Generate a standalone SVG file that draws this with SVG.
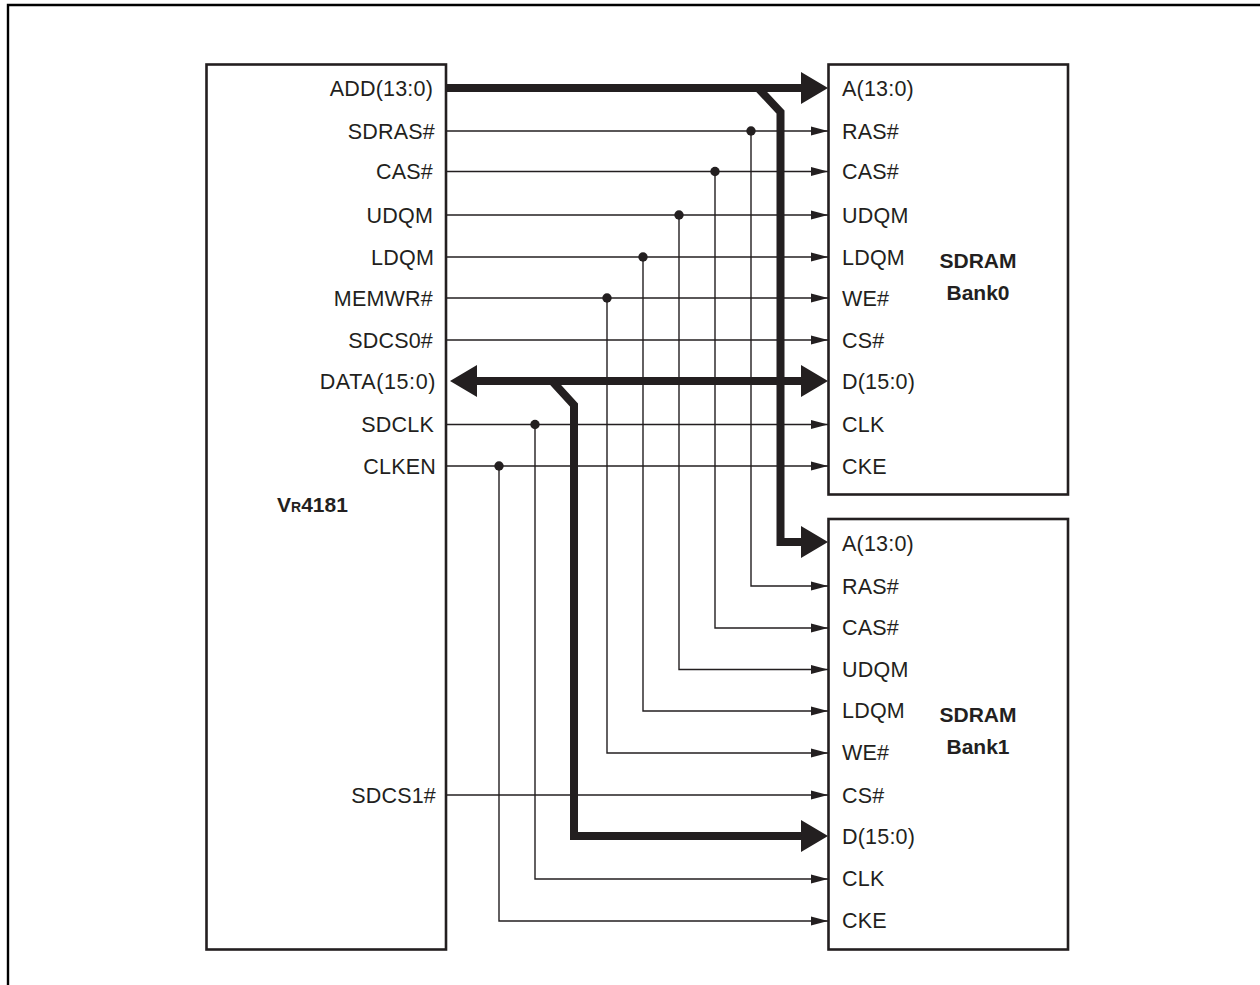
<svg xmlns="http://www.w3.org/2000/svg" width="1260" height="985" viewBox="0 0 1260 985">
<style>
text{font-family:"Liberation Sans",Arial,sans-serif;font-size:21.500px;letter-spacing:.2px;fill:#231f20}
.l{text-anchor:end}
.b{font-weight:bold;font-size:21px;letter-spacing:0;text-anchor:middle}
.box{fill:#fff;stroke:#231f20;stroke-width:2.6}
.t{fill:none;stroke:#231f20;stroke-width:1.4}
.k{fill:none;stroke:#231f20;stroke-width:8;stroke-linejoin:miter}
.h{fill:#231f20;stroke:none}
</style>
<defs>
<marker id="a" markerUnits="userSpaceOnUse" markerWidth="17" markerHeight="10" refX="17" refY="5" orient="auto"><path class="h" d="M0 .5L17 5L0 9.500Z"/></marker>
<marker id="A" markerUnits="userSpaceOnUse" markerWidth="28" markerHeight="34" refX="0" refY="17" orient="auto-start-reverse"><path class="h" d="M0 1L27 17L0 33Z"/></marker>
<circle id="d" r="4.700" fill="#231f20"/>
</defs>
<path id="frame" d="M8 985V5H1260" fill="none" stroke="#000" stroke-width="2.400"/>
<g id="vr4181"><rect class="box" x="206.500" y="64.500" width="239.500" height="885"/>
<text x="277" y="512" style="font-weight:bold;font-size:21px;letter-spacing:0">V<tspan style="font-size:14px">R</tspan>4181</text>
<text class="l" x="433" y="95.500">ADD(13:0)</text><text class="l" x="435" y="138.500">SDRAS#</text><text class="l" x="433" y="179">CAS#</text><text class="l" x="433" y="222.500">UDQM</text><text class="l" x="434" y="264.500">LDQM</text><text class="l" x="433" y="305.500">MEMWR#</text><text class="l" x="433" y="347.500">SDCS0#</text><text class="l" x="436" y="389" style="letter-spacing:.6px">DATA(15:0)</text><text class="l" x="434" y="431.500">SDCLK</text><text class="l" x="436" y="473.500">CLKEN</text><text class="l" x="436" y="802.500">SDCS1#</text></g>
<g id="bank0"><rect class="box" x="828.500" y="64.500" width="239.500" height="430"/>
<text class="b" x="978" y="268">SDRAM</text><text class="b" x="978" y="300">Bank0</text>
<text x="842" y="95.500">A(13:0)</text><text x="842" y="138.500">RAS#</text><text x="842" y="179">CAS#</text><text x="842" y="222.500">UDQM</text><text x="842" y="264.500">LDQM</text><text x="842" y="305.500">WE#</text><text x="842" y="347.500">CS#</text><text x="842" y="389">D(15:0)</text><text x="842" y="431.500">CLK</text><text x="842" y="473.500">CKE</text></g>
<g id="bank1"><rect class="box" x="828.500" y="519" width="239.500" height="430.500"/>
<text class="b" x="978" y="722">SDRAM</text><text class="b" x="978" y="754">Bank1</text>
<text x="842" y="551">A(13:0)</text><text x="842" y="593.500">RAS#</text><text x="842" y="634.500">CAS#</text><text x="842" y="676.500">UDQM</text><text x="842" y="718">LDQM</text><text x="842" y="760">WE#</text><text x="842" y="802.500">CS#</text><text x="842" y="844">D(15:0)</text><text x="842" y="886">CLK</text><text x="842" y="928">CKE</text></g>
<g id="connectors">
<g class="t">
<path d="M446 131H828" marker-end="url(#a)"/><path d="M446 171.500H828" marker-end="url(#a)"/><path d="M446 215H828" marker-end="url(#a)"/><path d="M446 257H828" marker-end="url(#a)"/><path d="M446 298H828" marker-end="url(#a)"/><path d="M446 340H828" marker-end="url(#a)"/><path d="M446 424.500H828" marker-end="url(#a)"/><path d="M446 466H828" marker-end="url(#a)"/><path d="M446 795H828" marker-end="url(#a)"/>
<path d="M751 131V586H828" marker-end="url(#a)"/><path d="M715 171.500V628H828" marker-end="url(#a)"/><path d="M679 215V669.500H828" marker-end="url(#a)"/><path d="M643 257V711H828" marker-end="url(#a)"/><path d="M607 298V753H828" marker-end="url(#a)"/><path d="M535 424.500V879H828" marker-end="url(#a)"/><path d="M499 466V921H828" marker-end="url(#a)"/>
</g>
<use href="#d" x="751" y="131"/><use href="#d" x="715" y="171.500"/><use href="#d" x="679" y="215"/><use href="#d" x="643" y="257"/><use href="#d" x="607" y="298"/><use href="#d" x="535" y="424.500"/><use href="#d" x="499" y="466"/>
<path class="k" d="M447 88H801" marker-end="url(#A)"/>
<path class="k" d="M758 88L780.500 112V542H801" marker-end="url(#A)"/>
<path class="k" d="M477 381H801" marker-start="url(#A)" marker-end="url(#A)"/>
<path class="k" d="M552 381L574 405V836H801" marker-end="url(#A)"/>
</g>
</svg>
